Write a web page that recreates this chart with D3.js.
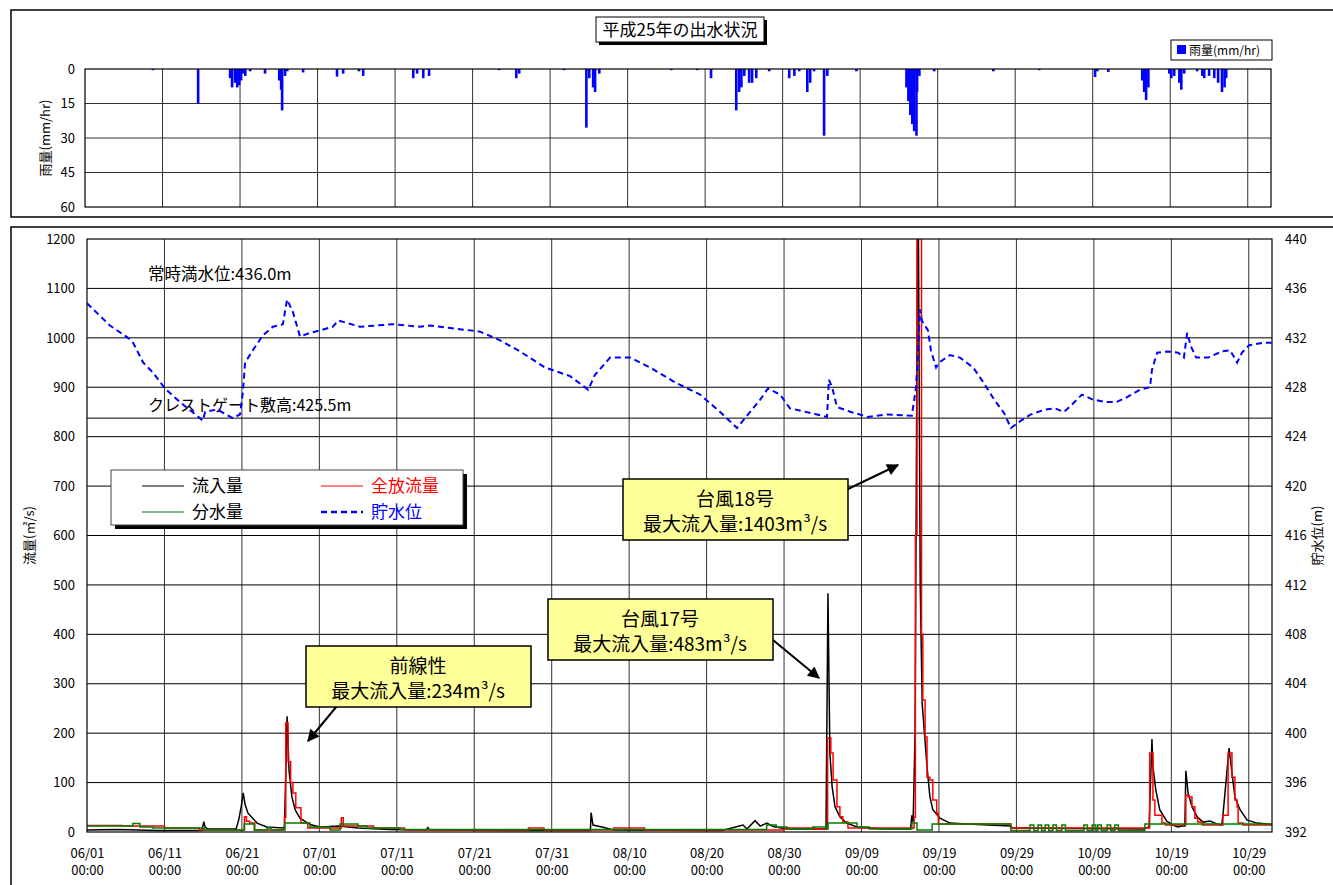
<!DOCTYPE html>
<html>
<head>
<meta charset="utf-8">
<script src="https://cdn.jsdelivr.net/npm/d3@7"></script>
<style>
body { margin: 0; background: #fff; }
text { font-family: "Noto Sans CJK JP", "Noto Sans", sans-serif; }
</style>
</head>
<body>
<svg id="chart" width="1333" height="885"></svg>
<script>
// ---- data ----
var dateTicks = ["06/01","06/11","06/21","07/01","07/11","07/21","07/31","08/10",
                 "08/20","08/30","09/09","09/19","09/29","10/09","10/19","10/29"];
var flowTicks  = [0,100,200,300,400,500,600,700,800,900,1000,1100,1200];
var levelTicks = [392,396,400,404,408,412,416,420,424,428,432,436,440];
var rainTicks  = [0,15,30,45,60];

var fullLevel  = 436.0;   // 常時満水位
var crestLevel = 425.5;   // クレストゲート敷高

var rain = [
  ["06/09 18:00",0.5],["06/15 14:00",15],["06/19 17:00",4],["06/19 23:00",8],["06/20 08:00",6],
  ["06/20 15:00",8],["06/20 21:00",7],["06/21 03:00",5],["06/21 09:00",2],["06/21 16:00",3],
  ["06/22 07:00",1],["06/24 05:00",2],["06/26 01:00",5],["06/26 07:00",9],["06/26 10:00",18],
  ["06/26 19:00",3],["06/27 02:00",1],["06/29 03:00",1.5],["07/03 12:00",3.3],["07/04 07:00",2],
  ["07/06 08:00",1],["07/06 21:00",3],["07/13 08:00",4],["07/13 20:00",2],["07/14 15:00",4],
  ["07/15 09:00",3],["07/24 10:00",0.5],["07/26 15:00",4],["07/27 00:00",2],["08/01 19:00",0.5],
  ["08/04 16:00",25.5],["08/05 01:00",4],["08/05 13:00",8],["08/05 19:00",10],["08/06 08:00",2],
  ["08/15 15:00",0.5],["08/18 23:00",0.5],["08/20 18:00",4],["08/24 00:00",18],["08/24 09:00",10],
  ["08/24 16:00",8],["08/25 01:00",3],["08/25 16:00",6],["08/26 01:00",6],["08/26 14:00",4],
  ["08/28 06:00",1],["08/30 20:00",4],["08/31 12:00",3],["09/01 03:00",1],["09/02 04:00",10],
  ["09/02 13:00",6],["09/03 01:00",1],["09/04 08:00",29],["09/04 18:00",3],["09/08 12:00",1],
  ["09/14 23:00",8],["09/15 05:00",14],["09/15 11:00",20],["09/15 17:00",24],["09/15 23:00",27],
  ["09/16 06:00",29],["09/16 08:00",10],["09/16 15:00",3],["09/18 13:00",1],["09/26 04:00",1],
  ["10/02 02:00",0.5],["10/09 07:00",3.5],["10/09 14:00",1],["10/11 00:00",1.3],["10/15 09:00",5],
  ["10/15 15:00",10],["10/15 21:00",13.5],["10/16 04:00",8],["10/18 21:00",2],["10/19 03:00",4],
  ["10/19 12:00",3],["10/20 04:00",6],["10/20 10:00",9],["10/20 19:00",2],["10/22 11:00",1],
  ["10/23 03:00",3],["10/23 09:00",4],["10/24 00:00",3],["10/24 16:00",4],["10/25 04:00",6],
  ["10/25 16:00",10],["10/26 00:00",8],["10/26 05:00",4]
];

var inflow = [
  ["06/01 00:00",4],["06/05 00:00",5],["06/10 00:00",3],["06/15 20:00",3],["06/16 02:00",21],
  ["06/16 06:00",10],["06/16 14:00",6],["06/20 06:00",6],["06/20 14:00",24],["06/20 22:00",52],
  ["06/21 04:00",79],["06/21 10:00",55],["06/21 19:00",38],["06/22 23:00",18],["06/24 05:00",10],
  ["06/26 08:00",8],["06/26 12:00",12],["06/26 17:00",150],["06/26 20:00",234],["06/27 02:00",125],
  ["06/27 11:00",71],["06/27 21:00",45],["06/28 12:00",28],["06/29 19:00",15],["07/01 02:00",10],
  ["07/03 12:00",12],["07/06 00:00",8],["07/10 00:00",5],["07/14 20:00",4],["07/15 00:00",9],
  ["07/15 06:00",4],["07/25 00:00",3],["08/05 00:00",3],["08/05 02:00",39],["08/05 08:00",14],
  ["08/06 12:00",10],["08/08 00:00",4],["08/22 00:00",3],["08/24 17:00",14],["08/25 05:00",6],
  ["08/26 06:00",23],["08/26 22:00",12],["08/27 19:00",18],["08/28 14:00",11],["08/30 09:00",6],
  ["09/04 10:00",6],["09/04 16:00",483],["09/04 22:00",160],["09/05 05:00",91],["09/05 14:00",51],
  ["09/06 05:00",31],["09/07 02:00",18],["09/08 10:00",10],["09/12 00:00",6],["09/15 08:00",6],
  ["09/15 12:00",34],["09/15 16:00",20],["09/15 22:00",200],["09/16 04:00",1000],["09/16 07:00",1403],
  ["09/16 10:00",1000],["09/16 14:00",500],["09/16 20:00",260],["09/17 11:00",132],["09/17 20:00",71],
  ["09/18 05:00",45],["09/19 03:00",28],["09/20 10:00",18],["09/22 15:00",16],["09/28 04:00",12],
  ["09/28 13:00",8],["10/15 08:00",6],["10/16 03:00",10],["10/16 12:00",188],["10/16 15:00",132],
  ["10/17 00:00",85],["10/17 12:00",45],["10/18 10:00",22],["10/19 05:00",14],["10/19 20:00",10],
  ["10/20 09:00",12],["10/20 18:00",12],["10/20 21:00",124],["10/21 04:00",79],["10/21 16:00",51],
  ["10/22 08:00",31],["10/23 02:00",20],["10/24 00:00",22],["10/24 22:00",16],["10/25 12:00",14],
  ["10/25 16:00",34],["10/26 11:00",170],["10/26 20:00",119],["10/27 05:00",71],["10/27 21:00",45],
  ["10/28 19:00",24],["10/30 02:00",18],["11/01 00:00",15]
];

var release = [
  ["06/01 00:00",13],["06/05 12:00",12],["06/11 00:00",8],["06/15 12:00",4],["06/21 08:00",31],
  ["06/21 14:00",22],["06/22 00:00",18],["06/22 16:00",4],["06/26 12:00",30],["06/26 16:00",221],
  ["06/26 23:00",142],["06/27 07:00",100],["06/27 14:00",79],["06/27 23:00",49],["06/28 15:00",18],
  ["06/29 12:00",8],["07/03 20:00",29],["07/04 02:00",12],["07/08 00:00",8],["07/12 00:00",4],
  ["07/28 00:00",8],["07/30 00:00",4],["08/08 00:00",8],["08/12 00:00",4],["08/30 00:00",8],
  ["09/03 00:00",6],["09/04 15:00",190],["09/05 01:00",160],["09/05 08:00",105],["09/05 20:00",51],
  ["09/06 05:00",31],["09/06 14:00",20],["09/07 06:00",8],["09/15 19:00",30],["09/15 23:00",600],
  ["09/16 04:00",1250],["09/16 18:00",400],["09/16 22:00",267],["09/17 05:00",192],["09/17 11:00",111],
  ["09/17 20:00",105],["09/18 05:00",65],["09/18 17:00",38],["09/18 22:00",16],["09/28 06:00",8],
  ["10/16 05:00",160],["10/16 15:00",65],["10/16 21:00",34],["10/17 19:00",18],["10/18 06:00",14],
  ["10/20 21:00",75],["10/21 04:00",71],["10/21 16:00",51],["10/22 01:00",28],["10/22 10:00",20],
  ["10/23 00:00",14],["10/25 16:00",34],["10/26 08:00",160],["10/26 20:00",111],["10/27 05:00",65],
  ["10/27 12:00",51],["10/27 15:00",18],["10/28 06:00",14],["11/01 00:00",14]
];

var diversion = [
  ["06/01 00:00",12],["06/06 22:00",17],["06/07 20:00",10],["06/09 12:00",8],["06/16 03:00",4],
  ["06/21 07:00",16],["06/22 14:00",4],["06/24 06:00",8],["06/24 18:00",4],["06/26 13:00",18],
  ["06/29 19:00",10],["07/02 09:00",4],["07/03 16:00",16],["07/06 00:00",12],["07/07 04:00",8],
  ["07/11 10:00",5],["08/27 18:00",14],["08/29 00:00",10],["08/30 09:00",6],["09/02 17:00",10],
  ["09/04 12:00",6],["09/04 16:00",18],["09/08 10:00",10],["09/10 00:00",6],["09/15 12:00",18],
  ["09/16 04:00",4],["09/18 03:00",16],["09/28 07:00",3],["09/30 18:00",14],["10/01 06:00",3],
  ["10/01 19:00",14],["10/02 06:00",3],["10/02 17:00",14],["10/03 04:00",3],["10/03 17:00",14],
  ["10/04 04:00",3],["10/04 21:00",14],["10/05 08:00",3],["10/07 17:00",14],["10/08 04:00",3],
  ["10/08 19:00",14],["10/09 06:00",3],["10/09 12:00",14],["10/09 23:00",3],["10/10 17:00",14],
  ["10/11 04:00",3],["10/11 17:00",14],["10/12 04:00",3],["10/15 14:00",16],["11/01 00:00",16]
];

var level = [
  ["06/01 00:00",434.8],["06/03 23:00",433.0],["06/06 07:00",432.0],["06/06 23:00",431.6],["06/08 06:00",430.0],
  ["06/09 12:00",429.2],["06/11 02:00",427.9],["06/13 00:00",426.8],["06/15 23:00",425.3],["06/16 06:00",426.0],
  ["06/17 19:00",426.2],["06/19 20:00",425.5],["06/20 18:00",425.8],["06/21 03:00",427.6],["06/21 10:00",430.0],
  ["06/22 10:00",431.0],["06/23 17:00",432.2],["06/25 00:00",432.9],["06/26 07:00",433.1],["06/26 20:00",435.1],
  ["06/27 14:00",434.1],["06/28 12:00",432.1],["06/29 19:00",432.4],["07/01 02:00",432.6],["07/02 18:00",432.9],
  ["07/03 10:00",433.4],["07/04 14:00",433.2],["07/06 06:00",432.9],["07/10 12:00",433.1],["07/14 00:00",432.9],
  ["07/15 07:00",433.0],["07/17 21:00",432.8],["07/21 18:00",432.5],["07/24 08:00",431.8],["07/26 22:00",430.9],
  ["07/30 03:00",429.6],["08/02 09:00",428.9],["08/04 17:00",427.8],["08/05 14:00",429.0],["08/07 13:00",430.4],
  ["08/10 03:00",430.4],["08/12 17:00",429.6],["08/15 22:00",428.4],["08/19 04:00",427.4],["08/21 18:00",426.0],
  ["08/23 22:00",424.7],["08/24 23:00",425.5],["08/26 22:00",427.0],["08/27 22:00",427.9],["08/29 12:00",427.4],
  ["08/30 18:00",426.3],["09/03 06:00",425.8],["09/04 13:00",425.6],["09/04 19:00",428.6],["09/05 05:00",428.0],
  ["09/05 20:00",426.4],["09/07 15:00",426.0],["09/09 20:00",425.6],["09/12 10:00",425.8],["09/15 12:00",425.7],
  ["09/16 01:00",428.0],["09/16 07:00",430.8],["09/16 13:00",434.3],["09/16 19:00",433.4],["09/17 14:00",432.6],
  ["09/17 23:00",431.0],["09/18 15:00",429.6],["09/19 00:00",430.0],["09/20 10:00",430.6],["09/21 17:00",430.4],
  ["09/23 10:00",429.6],["09/24 20:00",428.3],["09/26 03:00",427.0],["09/27 10:00",425.9],["09/28 07:00",424.7],
  ["09/29 14:00",425.3],["09/30 21:00",425.8],["10/02 17:00",426.2],["10/03 23:00",426.3],["10/05 03:00",426.0],
  ["10/06 04:00",426.6],["10/07 11:00",427.4],["10/08 21:00",427.0],["10/10 14:00",426.8],["10/11 21:00",426.8],
  ["10/13 07:00",427.2],["10/14 23:00",427.8],["10/16 06:00",428.0],["10/16 12:00",429.4],["10/17 04:00",430.8],
  ["10/18 11:00",430.9],["10/19 21:00",430.8],["10/20 15:00",430.4],["10/21 01:00",432.4],["10/21 13:00",431.3],
  ["10/22 05:00",430.4],["10/23 18:00",430.4],["10/25 13:00",430.9],["10/26 14:00",431.0],["10/27 12:00",430.0],
  ["10/28 03:00",430.8],["10/29 01:00",431.4],["10/30 20:00",431.6],["10/31 23:00",431.6]
];

// ---- setup ----
var FONT = '"Noto Sans CJK JP", "Noto Sans", sans-serif';
var parse = d3.timeParse("%Y/%m/%d %H:%M");
function t(s) { return parse("2013/" + s); }

var svg = d3.select("#chart");

var x = d3.scaleTime().domain([t("06/01 00:00"), t("11/01 00:00")]).range([87, 1272]);
var xr = d3.scaleTime().domain([t("06/01 00:00"), t("11/01 00:00")]).range([85, 1271]);
var yRain = d3.scaleLinear().domain([0, 60]).range([69, 207]);
var yFlow = d3.scaleLinear().domain([0, 1200]).range([832, 239]);
var yLevel = d3.scaleLinear().domain([392, 440]).range([832, 239]);

var tickDates = dateTicks.map(function(d) { return t(d + " 00:00"); });

// outer frames
svg.append("rect").attr("x", 11).attr("y", 10).attr("width", 1340).attr("height", 207)
    .attr("fill", "none").attr("stroke", "#000").attr("stroke-width", 1.5);
svg.append("rect").attr("x", 11).attr("y", 227).attr("width", 1340).attr("height", 700)
    .attr("fill", "none").attr("stroke", "#000").attr("stroke-width", 1.5);

// ================= rain panel =================
var gr = svg.append("g");

gr.selectAll("line.vg").data(tickDates.slice(1))
    .enter().append("line")
    .attr("x1", function(d) { return xr(d); }).attr("x2", function(d) { return xr(d); })
    .attr("y1", yRain(0)).attr("y2", yRain(60))
    .attr("stroke", "#333").attr("stroke-width", 1);

gr.selectAll("line.hg").data(rainTicks.slice(1, -1))
    .enter().append("line")
    .attr("x1", xr.range()[0]).attr("x2", xr.range()[1])
    .attr("y1", function(d) { return yRain(d); }).attr("y2", function(d) { return yRain(d); })
    .attr("stroke", "#333").attr("stroke-width", 1);

gr.selectAll("rect.rain").data(rain)
    .enter().append("rect")
    .attr("x", function(d) { return xr(t(d[0])) - 1.2; })
    .attr("y", yRain(0))
    .attr("width", 2.6)
    .attr("height", function(d) { return yRain(d[1]) - yRain(0); })
    .attr("fill", "#0000ff");

gr.append("rect").attr("x", xr.range()[0]).attr("y", yRain(0))
    .attr("width", xr.range()[1] - xr.range()[0]).attr("height", yRain(60) - yRain(0))
    .attr("fill", "none").attr("stroke", "#000").attr("stroke-width", 1.2);

gr.append("g").attr("transform", "translate(" + xr.range()[0] + ",0)")
    .call(d3.axisLeft(yRain).tickValues(rainTicks).tickSize(0).tickPadding(10))
    .call(function(g) { g.select(".domain").remove(); })
    .attr("font-family", FONT).attr("font-size", 13);

gr.append("text")
    .attr("transform", "translate(50," + ((yRain(0) + yRain(60)) / 2) + ") rotate(-90)")
    .attr("text-anchor", "middle").attr("font-size", 13)
    .text("雨量(mm/hr)");

// title
svg.append("rect").attr("x", 599).attr("y", 20).attr("width", 168).attr("height", 25).attr("fill", "#000");
svg.append("rect").attr("x", 596).attr("y", 17).attr("width", 168).attr("height", 25)
    .attr("fill", "#fff").attr("stroke", "#000").attr("stroke-width", 1);
svg.append("text").attr("x", 680).attr("y", 36).attr("text-anchor", "middle")
    .attr("font-size", 17).text("平成25年の出水状況");

// rain legend
svg.append("rect").attr("x", 1171).attr("y", 40).attr("width", 101).attr("height", 20)
    .attr("fill", "#fff").attr("stroke", "#000").attr("stroke-width", 1);
svg.append("rect").attr("x", 1177).attr("y", 45).attr("width", 9).attr("height", 9).attr("fill", "#0000ff");
svg.append("text").attr("x", 1189).attr("y", 55).attr("font-size", 12).text("雨量(mm/hr)");

// ================= flow panel =================
var gm = svg.append("g");

gm.selectAll("line.vg").data(tickDates.slice(1))
    .enter().append("line")
    .attr("x1", function(d) { return x(d); }).attr("x2", function(d) { return x(d); })
    .attr("y1", yFlow(0)).attr("y2", yFlow(1200))
    .attr("stroke", "#333").attr("stroke-width", 1);

gm.selectAll("line.hg").data(flowTicks.slice(1, -1))
    .enter().append("line")
    .attr("x1", x.range()[0]).attr("x2", x.range()[1])
    .attr("y1", function(d) { return yFlow(d); }).attr("y2", function(d) { return yFlow(d); })
    .attr("stroke", "#000").attr("stroke-width", 1);

// crest gate line
gm.append("line")
    .attr("x1", x.range()[0]).attr("x2", x.range()[1])
    .attr("y1", yLevel(crestLevel)).attr("y2", yLevel(crestLevel))
    .attr("stroke", "#000").attr("stroke-width", 1);

gm.append("text").attr("x", 148).attr("y", yLevel(fullLevel) - 8)
    .attr("font-size", 16.5).text("常時満水位:" + fullLevel.toFixed(1) + "m");
gm.append("text").attr("x", 148).attr("y", yLevel(crestLevel) - 7)
    .attr("font-size", 16).text("クレストゲート敷高:" + crestLevel.toFixed(1) + "m");

svg.append("clipPath").attr("id", "clipMain")
    .append("rect").attr("x", x.range()[0]).attr("y", yFlow(1200))
    .attr("width", x.range()[1] - x.range()[0]).attr("height", yFlow(0) - yFlow(1200));

var plot = gm.append("g").attr("clip-path", "url(#clipMain)");

var lineFlow = d3.line()
    .x(function(d) { return x(t(d[0])); })
    .y(function(d) { return yFlow(d[1]); });
var lineStep = d3.line()
    .x(function(d) { return x(t(d[0])); })
    .y(function(d) { return yFlow(d[1]); })
    .curve(d3.curveStepAfter);
var lineLevel = d3.line()
    .x(function(d) { return x(t(d[0])); })
    .y(function(d) { return yLevel(d[1]); });

plot.append("path").datum(inflow).attr("d", lineFlow)
    .attr("fill", "none").attr("stroke", "#000").attr("stroke-width", 1.5);
plot.append("path").datum(release).attr("d", lineStep)
    .attr("fill", "none").attr("stroke", "#ff0000").attr("stroke-width", 1.5);
plot.append("path").datum(diversion).attr("d", lineStep)
    .attr("fill", "none").attr("stroke", "#008000").attr("stroke-width", 1.5);
plot.append("path").datum(level).attr("d", lineLevel)
    .attr("fill", "none").attr("stroke", "#0000ff").attr("stroke-width", 2)
    .attr("stroke-dasharray", "6,4");

gm.append("rect").attr("x", x.range()[0]).attr("y", yFlow(1200))
    .attr("width", x.range()[1] - x.range()[0]).attr("height", yFlow(0) - yFlow(1200))
    .attr("fill", "none").attr("stroke", "#000").attr("stroke-width", 1.2);

// axes
gm.append("g").attr("transform", "translate(" + x.range()[0] + ",0)")
    .call(d3.axisLeft(yFlow).tickValues(flowTicks).tickSize(0).tickPadding(12).tickFormat(d3.format("d")))
    .call(function(g) { g.select(".domain").remove(); })
    .attr("font-family", FONT).attr("font-size", 13);

gm.append("g").attr("transform", "translate(" + x.range()[1] + ",0)")
    .call(d3.axisRight(yLevel).tickValues(levelTicks).tickSize(0).tickPadding(13).tickFormat(d3.format("d")))
    .call(function(g) { g.select(".domain").remove(); })
    .attr("font-family", FONT).attr("font-size", 13);

var xa = gm.append("g").attr("transform", "translate(0," + yFlow(0) + ")")
    .call(d3.axisBottom(x).tickValues(tickDates).tickSize(0).tickFormat(""))
    .call(function(g) { g.select(".domain").remove(); });
xa.selectAll(".tick text").remove();
xa.selectAll(".tick").append("text")
    .attr("text-anchor", "middle").attr("fill", "#000").attr("font-size", 13)
    .attr("font-family", FONT)
    .selectAll("tspan").data(function(d, i) { return [dateTicks[i], "00:00"]; })
    .enter().append("tspan")
    .attr("x", 0).attr("y", function(d, i) { return i === 0 ? 26 : 43; })
    .text(function(d) { return d; });

gm.append("text")
    .attr("transform", "translate(34," + ((yFlow(0) + yFlow(1200)) / 2) + ") rotate(-90)")
    .attr("text-anchor", "middle").attr("font-size", 13)
    .text("流量(㎥/s)");
gm.append("text")
    .attr("transform", "translate(1322," + ((yFlow(0) + yFlow(1200)) / 2) + ") rotate(-90)")
    .attr("text-anchor", "middle").attr("font-size", 13)
    .text("貯水位(m)");

// legend
var lg = svg.append("g");
lg.append("rect").attr("x", 115).attr("y", 474).attr("width", 352).attr("height", 55).attr("fill", "#000");
lg.append("rect").attr("x", 111).attr("y", 470).attr("width", 352).attr("height", 55)
    .attr("fill", "#fff").attr("stroke", "#444").attr("stroke-width", 1);
var legendItems = [
  { label: "流入量", color: "#000", dash: null, tc: "#000", lx: 142, ly: 486 },
  { label: "全放流量", color: "#ff0000", dash: null, tc: "#ff0000", lx: 321, ly: 486 },
  { label: "分水量", color: "#008000", dash: null, tc: "#000", lx: 142, ly: 512 },
  { label: "貯水位", color: "#0000ff", dash: "6,4", tc: "#0000ff", lx: 321, ly: 512 }
];
legendItems.forEach(function(it) {
  lg.append("line").attr("x1", it.lx).attr("x2", it.lx + 42).attr("y1", it.ly).attr("y2", it.ly)
      .attr("stroke", it.color).attr("stroke-width", it.dash ? 2.5 : 1.2)
      .attr("stroke-dasharray", it.dash);
  lg.append("text").attr("x", it.lx + 50).attr("y", it.ly + 6)
      .attr("font-size", 17).attr("fill", it.tc).text(it.label);
});

// annotations
svg.append("defs").append("marker").attr("id", "arrow")
    .attr("viewBox", "0 0 10 10").attr("refX", 9).attr("refY", 5)
    .attr("markerWidth", 16).attr("markerHeight", 12)
    .attr("markerUnits", "userSpaceOnUse").attr("orient", "auto")
    .append("path").attr("d", "M0,0 L10,5 L0,10 Z").attr("fill", "#000");

var notes = [
  { l1: "前線性", l2: "最大流入量:234m³/s", bx: 306, by: 646, ax1: 337, ay1: 706, ax2: 308, ay2: 741 },
  { l1: "台風17号", l2: "最大流入量:483m³/s", bx: 548, by: 599, ax1: 773, ay1: 640, ax2: 819, ay2: 678 },
  { l1: "台風18号", l2: "最大流入量:1403m³/s", bx: 623, by: 479, ax1: 848, ay1: 489, ax2: 898, ay2: 465 }
];
notes.forEach(function(n) {
  svg.append("line").attr("x1", n.ax1).attr("y1", n.ay1).attr("x2", n.ax2).attr("y2", n.ay2)
      .attr("stroke", "#000").attr("stroke-width", 2).attr("marker-end", "url(#arrow)");
  svg.append("rect").attr("x", n.bx).attr("y", n.by).attr("width", 225).attr("height", 61)
      .attr("fill", "#ffff99").attr("stroke", "#000").attr("stroke-width", 1.5);
  var tx = svg.append("text").attr("text-anchor", "middle").attr("font-size", 19);
  tx.append("tspan").attr("x", n.bx + 112).attr("y", n.by + 27).text(n.l1);
  tx.append("tspan").attr("x", n.bx + 112).attr("y", n.by + 52).text(n.l2);
});
</script>
</body>
</html>
